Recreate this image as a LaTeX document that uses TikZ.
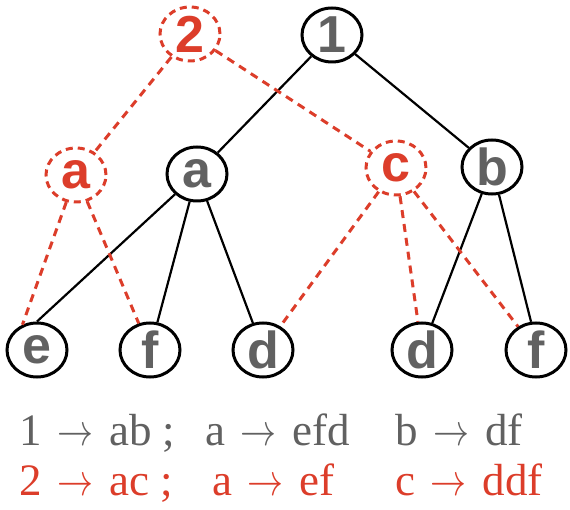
\RequirePackage{fix-cm}
\documentclass[tikz,border=0pt]{standalone}
\usepackage{fontspec}
\setmainfont{Liberation Serif}
\setsansfont{Liberation Sans}
\usepackage{graphicx}
\usepackage{tikz}
\usetikzlibrary{shapes.geometric}
\definecolor{trgray}{HTML}{616161}
\definecolor{trred}{HTML}{DC3D2A}
\newcommand{\rar}{\hspace{0.1em}\scalebox{0.8}[1]{$\rightarrow$}\hspace{0.1em}}

\begin{document}
\begin{tikzpicture}[x=1pt,y=-1pt,
  tnode/.style={ellipse,draw=black,line width=3pt,minimum width=60pt,minimum height=54pt,inner sep=0pt,text=trgray,font=\sffamily\bfseries\fontsize{52}{52}\selectfont},
  rnode/.style={tnode,draw=trred,text=trred,dash pattern=on 7pt off 5pt},
  tedge/.style={line width=2.2pt},
  redge/.style={draw=trred,line width=3pt,dash pattern=on 8pt off 6pt},
  rule/.style={anchor=base west,inner sep=0pt,font=\fontsize{45}{45}\selectfont}]
\useasboundingbox (0,0) rectangle (570,510);
\node[tnode] (n1) at (332,35) {1};
\node[rnode] (n2) at (190,34) {2};
\node[rnode] (ra) at (76,175) {a};
\node[tnode] (a) at (197,174) {a};
\node[rnode] (c) at (396,168) {c};
\node[tnode] (b) at (492,167) {b};
\node[tnode] (e) at (37,350) {e};
\node[tnode] (f1) at (150,350) {f};
\node[tnode] (d1) at (263,350) {d};
\node[tnode] (d2) at (422,350) {d};
\node[tnode] (f2) at (536,350) {f};
\draw[tedge] (n1) -- (a);
\draw[tedge] (n1) -- (b);
\draw[tedge] (a) -- (e.north);
\foreach \x in {f1,d1} \draw[tedge] (a) -- (\x);
\draw[tedge] (b) -- (d2);
\draw[tedge] (b) -- (f2.100);
\draw[redge] (n2) -- (ra);
\draw[redge] (n2) -- (c);
\draw[redge] (ra) -- (e.120);
\draw[redge] (ra) -- (f1);
\foreach \x in {d1,d2,f2} \draw[redge] (c) -- (\x);
\node[rule,text=trgray] (r1) at (19,445) {1 \rar\ ab ;};
\node[rule,text=trgray] (r2) at (205,445) {a \rar\ efd};
\node[rule,text=trgray] (r3) at (395,445) {b \rar\ df};
\node[rule,text=trred] (s1) at (19,495) {2 \rar\ ac ;};
\node[rule,text=trred] (s2) at (212,495) {a \rar\ ef};
\node[rule,text=trred] (s3) at (395,495) {c \rar\ ddf};
\end{tikzpicture}
\end{document}
